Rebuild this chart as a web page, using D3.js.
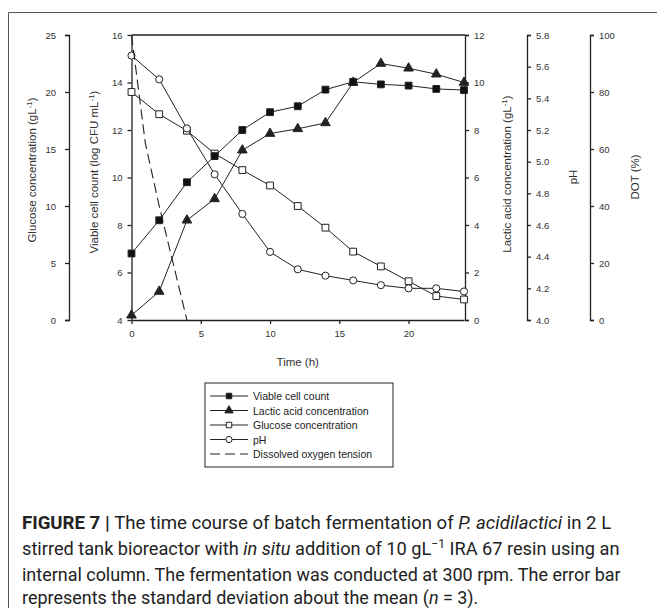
<!DOCTYPE html>
<html>
<head>
<meta charset="utf-8">
<script src="https://cdn.jsdelivr.net/npm/d3@7"></script>
<style>
  body { margin: 0; background: #fff; }
  svg { display: block; }
</style>
</head>
<body>
<svg id="chart"></svg>
<script>
const times = [0, 2, 4, 6, 8, 10, 12, 14, 16, 18, 20, 22, 24];
const viable = [6.8, 8.2, 9.8, 10.9, 12.0, 12.75, 13.0, 13.7, 14.03, 13.92, 13.87, 13.73, 13.68];
const lactic = [0.2, 1.2, 4.2, 5.1, 7.15, 7.85, 8.05, 8.3, 10.0, 10.8, 10.6, 10.35, 10.0];
const glucose = [20.0, 18.05, 16.6, 14.6, 13.15, 11.8, 10.0, 8.1, 6.0, 4.7, 3.4, 2.1, 1.8];
const ph = [5.67, 5.52, 5.21, 4.92, 4.67, 4.43, 4.32, 4.28, 4.25, 4.22, 4.2, 4.2, 4.18];
const dotTimes = [0, 1, 2, 4];
const dot = [100, 62, 40, 0];

const timeTicks = [0, 5, 10, 15, 20];
const legendLabels = ['Viable cell count', 'Lactic acid concentration', 'Glucose concentration', 'pH', 'Dissolved oxygen tension'];

const width = 657, height = 608;
const plotTop = 35, plotBottom = 320, plotLeft = 131.5, plotRight = 465;
const ink = '#222';

const svg = d3.select('#chart')
  .attr('width', width)
  .attr('height', height)
  .style('font-family', 'Liberation Sans, Arial, sans-serif');

// outer frame (cut off at right and bottom)
svg.append('path')
  .attr('d', `M8.5,${height} V12.5 H${width}`)
  .attr('fill', 'none')
  .attr('stroke', '#555')
  .attr('stroke-width', 1);

const x = d3.scaleLinear().domain([0, 24]).range([plotLeft, plotRight - 1]);
const yViable = d3.scaleLinear().domain([4, 16]).range([plotBottom, plotTop]);
const yLactic = d3.scaleLinear().domain([0, 12]).range([plotBottom, plotTop]);
const yGlucose = d3.scaleLinear().domain([0, 25]).range([plotBottom, plotTop]);
const yPh = d3.scaleLinear().domain([4, 5.8]).range([plotBottom, plotTop]);
const yDot = d3.scaleLinear().domain([0, 100]).range([plotBottom, plotTop]);

function styleAxis(g) {
  g.selectAll('path, line').attr('stroke', ink).attr('stroke-width', 1.3);
  g.selectAll('text').attr('fill', '#333').style('font-size', '9.5px').style('font-family', 'Liberation Sans, Arial, sans-serif');
}

// top border of the plot box
svg.append('line')
  .attr('x1', plotLeft).attr('x2', plotRight).attr('y1', plotTop).attr('y2', plotTop)
  .attr('stroke', ink).attr('stroke-width', 1.3);

svg.append('g')
  .attr('transform', `translate(0,${plotBottom})`)
  .call(d3.axisBottom(x).tickValues(timeTicks).tickSize(4).tickSizeOuter(0).tickPadding(6))
  .call(styleAxis);

svg.append('g')
  .attr('transform', `translate(${plotLeft},0)`)
  .call(d3.axisLeft(yViable).tickValues(d3.range(4, 17, 2)).tickSize(4).tickSizeOuter(0).tickPadding(5))
  .call(styleAxis);

svg.append('g')
  .attr('transform', `translate(69,0)`)
  .call(d3.axisLeft(yGlucose).tickValues(d3.range(0, 26, 5)).tickSize(4).tickSizeOuter(4).tickPadding(9))
  .call(styleAxis);

svg.append('g')
  .attr('transform', `translate(${plotRight},0)`)
  .call(d3.axisRight(yLactic).tickValues(d3.range(0, 13, 2)).tickSize(4).tickSizeOuter(4).tickPadding(5))
  .call(styleAxis);

svg.append('g')
  .attr('transform', `translate(527,0)`)
  .call(d3.axisRight(yPh).tickValues(d3.range(0, 10).map(i => 4 + i * 0.2)).tickFormat(d3.format('.1f')).tickSize(4).tickSizeOuter(4).tickPadding(5))
  .call(styleAxis);

svg.append('g')
  .attr('transform', `translate(590,0)`)
  .call(d3.axisRight(yDot).tickValues(d3.range(0, 101, 20)).tickSize(4).tickSizeOuter(4).tickPadding(5))
  .call(styleAxis);

// axis titles
function vTitle(cx, cy, main, sup, tail) {
  const t = svg.append('text')
    .attr('transform', `translate(${cx},${cy}) rotate(-90)`)
    .attr('text-anchor', 'middle')
    .attr('fill', '#333')
    .style('font-size', '11.5px')
    .text(main);
  if (sup) {
    t.append('tspan').attr('dy', -4).style('font-size', '8px').text(sup);
    t.append('tspan').attr('dy', 4).text(tail);
  }
}
vTitle(36, 170, 'Glucose concentration (gL', '-1', ')');
vTitle(98, 172, 'Viable cell count (log CFU mL', '-1', ')');
vTitle(511, 174, 'Lactic acid concentration (gL', '-1', ')');
vTitle(577, 177, 'pH');
vTitle(639, 177, 'DOT (%)');

svg.append('text')
  .attr('x', x(12)).attr('y', 366)
  .attr('text-anchor', 'middle')
  .attr('fill', '#333')
  .style('font-size', '11.5px')
  .text('Time (h)');

// markers
const sq = d3.symbol().type(d3.symbolSquare).size(46);
const tri = d3.symbol().type(d3.symbolTriangle).size(40);
const circ = d3.symbol().type(d3.symbolCircle).size(40);

function series(values, y, sym, fill) {
  const pts = times.map((t, i) => [x(t), y(values[i])]);
  svg.append('path')
    .attr('d', d3.line()(pts))
    .attr('fill', 'none')
    .attr('stroke', ink)
    .attr('stroke-width', 1);
  svg.append('g').selectAll('path')
    .data(pts)
    .join('path')
    .attr('transform', d => `translate(${d[0]},${d[1]})`)
    .attr('d', sym)
    .attr('fill', fill)
    .attr('stroke', ink)
    .attr('stroke-width', 1);
}

series(glucose, yGlucose, sq, '#fff');
series(ph, yPh, circ, '#fff');
series(lactic, yLactic, tri, ink);
series(viable, yViable, sq, '#111');

svg.append('path')
  .attr('d', d3.line()(dotTimes.map((t, i) => [x(t), yDot(dot[i])])))
  .attr('fill', 'none')
  .attr('stroke', ink)
  .attr('stroke-width', 1.1)
  .attr('stroke-dasharray', '10,5');

// legend
const lg = svg.append('g').attr('transform', 'translate(205,383)');
lg.append('rect')
  .attr('width', 188).attr('height', 84)
  .attr('fill', '#fff').attr('stroke', ink).attr('stroke-width', 1);
const legendSyms = [
  { sym: d3.symbol().type(d3.symbolSquare).size(30), fill: '#111' },
  { sym: d3.symbol().type(d3.symbolTriangle).size(30), fill: ink },
  { sym: d3.symbol().type(d3.symbolSquare).size(30), fill: '#fff' },
  { sym: d3.symbol().type(d3.symbolCircle).size(30), fill: '#fff' },
  { sym: null }
];
legendLabels.forEach((label, i) => {
  const yy = 13 + i * 14.5;
  lg.append('line')
    .attr('x1', 5).attr('x2', 43).attr('y1', yy).attr('y2', yy)
    .attr('stroke', ink).attr('stroke-width', 1)
    .attr('stroke-dasharray', legendSyms[i].sym ? null : '10,5');
  if (legendSyms[i].sym) {
    lg.append('path')
      .attr('transform', `translate(24,${yy})`)
      .attr('d', legendSyms[i].sym)
      .attr('fill', legendSyms[i].fill)
      .attr('stroke', ink);
  }
  lg.append('text')
    .attr('x', 48).attr('y', yy + 4)
    .attr('fill', '#222')
    .style('font-size', '10.5px')
    .text(label);
});

// caption: each line squeezed horizontally to the width it has in the figure
const cap = svg.append('g')
  .style('font-family', 'Roboto, Liberation Sans, sans-serif')
  .style('font-size', '18px')
  .attr('fill', '#222');

const capLines = [];
const l1 = cap.append('text');
l1.append('tspan').style('font-weight', 'bold').text('FIGURE 7 | ');
l1.append('tspan').text('The time course of batch fermentation of ');
l1.append('tspan').style('font-style', 'italic').text('P. acidilactici');
l1.append('tspan').text(' in 2 L');
capLines.push({ t: l1, y: 529, w: 590 });

const l2 = cap.append('text');
l2.append('tspan').text('stirred tank bioreactor with ');
l2.append('tspan').style('font-style', 'italic').text('in situ');
l2.append('tspan').text(' addition of 10 gL');
l2.append('tspan').attr('dy', -7).style('font-size', '12px').text('\u22121');
l2.append('tspan').attr('dy', 7).text(' IRA 67 resin using an');
capLines.push({ t: l2, y: 555, w: 598 });

const l3 = cap.append('text')
  .text('internal column. The fermentation was conducted at 300 rpm. The error bar');
capLines.push({ t: l3, y: 581, w: 599 });

const l4 = cap.append('text');
l4.append('tspan').text('represents the standard deviation about the mean (');
l4.append('tspan').style('font-style', 'italic').text('n');
l4.append('tspan').text(' = 3).');
capLines.push({ t: l4, y: 604, w: null });

const natural3 = l3.node().getBBox().width;
const baseScale = 599 / natural3;
capLines.forEach(c => {
  const wNat = c.t.node().getBBox().width;
  const s = c.w ? c.w / wNat : baseScale;
  c.t.attr('transform', `translate(22,${c.y}) scale(${s},1)`);
});
</script>
</body>
</html>
